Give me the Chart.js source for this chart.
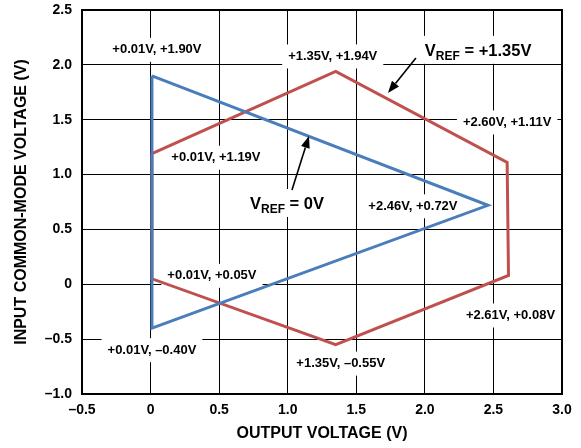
<!DOCTYPE html>
<html>
<head>
<meta charset="utf-8">
<script src="https://cdn.jsdelivr.net/npm/chart.js@4.4.0/dist/chart.umd.min.js"></script>
<style>
  html, body { margin: 0; padding: 0; background: #fff; }
</style>
</head>
<body>
<canvas id="c" width="581" height="448"></canvas>
<script>
// Operating-region vertices: output voltage (x) vs input common-mode voltage (y), volts
const vref0Out   = [0.01, 2.46, 0.01, 0.01];
const vref0In    = [1.90, 0.72, -0.40, 1.90];
const vref135Out = [0.01, 1.35, 2.60, 2.61, 1.35, 0.01, 0.01];
const vref135In  = [1.19, 1.94, 1.11, 0.08, -0.55, 0.05, 1.19];

const xTicks = [-0.5, 0, 0.5, 1.0, 1.5, 2.0, 2.5, 3.0];
const yTicks = [-1.0, -0.5, 0, 0.5, 1.0, 1.5, 2.0, 2.5];

const FONT = '"Liberation Sans", Arial, Helvetica, sans-serif';
const BLUE = '#4a7ebb';
const RED  = '#c0504d';

const seriesX = [vref0Out, vref135Out];
const seriesY = [vref0In, vref135In];

function fmtTick(v) {
  if (v === 0) return '0';
  return (v < 0 ? '\u2013' : '') + Math.abs(v).toFixed(1);
}
function fmtVolt(v) {
  return (v < 0 ? '\u2013' : '+') + Math.abs(v).toFixed(2) + 'V';
}

// Vertex callouts: series, vertex index, text centre offset from the vertex (px)
const callouts = [
  { s: 0, i: 0, dx: 5,   dy: -26 },
  { s: 0, i: 1, dx: -75, dy: 1 },
  { s: 0, i: 2, dx: 0,   dy: 22 },
  { s: 1, i: 0, dx: 64,  dy: 4 },
  { s: 1, i: 1, dx: -3,  dy: -15 },
  { s: 1, i: 2, dx: 0,   dy: -40 },
  { s: 1, i: 3, dx: 2,   dy: 40 },
  { s: 1, i: 4, dx: 5,   dy: 19 },
  { s: 1, i: 5, dx: 60,  dy: -3 }
];

// Reference-voltage captions (left edge / vertical centre in data units) and their arrows
const refCaptions = [
  { tail: ' = +1.35V', x: 2.00, y: 2.137, arrow: [1.935, 2.063, 1.731, 1.744] },
  { tail: ' = 0V',     x: 0.725, y: 0.741, arrow: [1.031, 0.860, 1.155, 1.352] }
];

const CALLOUT_FONT = 'bold 13px ' + FONT;
const BIG_FONT = 'bold 16.5px ' + FONT;
const SUB_FONT = 'bold 12px ' + FONT;

function calloutBoxes(chart) {
  const { ctx, scales: { x, y } } = chart;
  ctx.save();
  ctx.font = CALLOUT_FONT;
  const out = callouts.map(c => {
    const vx = seriesX[c.s][c.i], vy = seriesY[c.s][c.i];
    const text = fmtVolt(vx) + ', ' + fmtVolt(vy);
    const cx = x.getPixelForValue(vx) + c.dx;
    const cy = y.getPixelForValue(vy) + c.dy;
    const w = ctx.measureText(text).width;
    return { text, cx, cy, w };
  });
  ctx.restore();
  return out;
}

function captionLayout(chart, r) {
  const { ctx, scales: { x, y } } = chart;
  ctx.save();
  ctx.font = BIG_FONT; const wV = ctx.measureText('V').width; const wT = ctx.measureText(r.tail).width;
  ctx.font = SUB_FONT; const wS = ctx.measureText('REF').width;
  ctx.restore();
  const left = x.getPixelForValue(r.x);
  const cy = y.getPixelForValue(r.y);
  return { left, cy, wV, wS, wT, w: wV + wS + wT };
}

function drawArrow(ctx, x0, y0, x1, y1) {
  const ang = Math.atan2(y1 - y0, x1 - x0);
  const len = 12, half = 4.5;
  const bx = x1 - len * Math.cos(ang), by = y1 - len * Math.sin(ang);
  ctx.beginPath();
  ctx.moveTo(x0, y0);
  ctx.lineTo(bx, by);
  ctx.stroke();
  ctx.beginPath();
  ctx.moveTo(x1, y1);
  ctx.lineTo(bx + half * Math.sin(ang), by - half * Math.cos(ang));
  ctx.lineTo(bx - half * Math.sin(ang), by + half * Math.cos(ang));
  ctx.closePath();
  ctx.fill();
}

const annotate = {
  id: 'annotate',
  beforeDatasetsDraw(chart) {
    const { ctx, chartArea: a } = chart;
    ctx.save();
    ctx.fillStyle = '#fff';
    for (const b of calloutBoxes(chart)) {
      ctx.fillRect(b.cx - b.w / 2 - 6, b.cy - 12, b.w + 12, 24);
    }
    for (const r of refCaptions) {
      const L = captionLayout(chart, r);
      ctx.fillRect(L.left - 6, L.cy - 14, L.w + 12, 28);
    }
    ctx.strokeStyle = '#000';
    ctx.lineWidth = 2;
    ctx.strokeRect(a.left, a.top, a.right - a.left, a.bottom - a.top);
    ctx.restore();
  },
  afterDatasetsDraw(chart) {
    const { ctx, scales: { x, y } } = chart;
    ctx.save();
    ctx.fillStyle = '#000';
    ctx.font = CALLOUT_FONT;
    ctx.textAlign = 'center';
    ctx.textBaseline = 'middle';
    for (const b of calloutBoxes(chart)) ctx.fillText(b.text, b.cx, b.cy);

    ctx.textAlign = 'left';
    ctx.textBaseline = 'alphabetic';
    for (const r of refCaptions) {
      const L = captionLayout(chart, r);
      const base = L.cy + 6;
      ctx.font = BIG_FONT;
      ctx.fillText('V', L.left, base);
      ctx.font = SUB_FONT;
      ctx.fillText('REF', L.left + L.wV, base + 4);
      ctx.font = BIG_FONT;
      ctx.fillText(r.tail, L.left + L.wV + L.wS, base);

      const [ax0, ay0, ax1, ay1] = r.arrow;
      ctx.strokeStyle = '#000';
      ctx.lineWidth = 1.6;
      drawArrow(ctx, x.getPixelForValue(ax0), y.getPixelForValue(ay0),
                     x.getPixelForValue(ax1), y.getPixelForValue(ay1));
    }
    ctx.restore();
  }
};

function points(xs, ys) { return xs.map((v, k) => ({ x: v, y: ys[k] })); }

const gridOpts = { color: '#000', lineWidth: 1, drawTicks: false };

new Chart(document.getElementById('c'), {
  type: 'scatter',
  data: {
    datasets: [
      { label: 'VREF = 0V', data: points(vref0Out, vref0In), showLine: true,
        borderColor: BLUE, borderWidth: 3, pointRadius: 0, tension: 0,
        borderJoinStyle: 'miter', fill: false },
      { label: 'VREF = +1.35V', data: points(vref135Out, vref135In), showLine: true,
        borderColor: RED, borderWidth: 3, pointRadius: 0, tension: 0,
        borderJoinStyle: 'miter', fill: false }
    ]
  },
  options: {
    responsive: false,
    devicePixelRatio: 1,
    animation: false,
    layout: { padding: { top: 10, right: 19, bottom: 0, left: 0 } },
    plugins: { legend: { display: false }, tooltip: { enabled: false } },
    scales: {
      x: {
        type: 'linear', position: 'bottom', min: -0.5, max: 3.0,
        afterBuildTicks: s => { s.ticks = xTicks.map(v => ({ value: v })); },
        afterFit: s => { s.height = 54; s.paddingLeft = 0; s.paddingRight = 0; },
        grid: gridOpts,
        border: { display: false },
        ticks: { color: '#000', font: { family: FONT, size: 14, weight: 'bold' },
                 padding: 8, maxRotation: 0, autoSkip: false, callback: fmtTick },
        title: { display: true, text: 'OUTPUT VOLTAGE (V)', color: '#000',
                 font: { family: FONT, size: 16, weight: 'bold' },
                 padding: { top: 0, bottom: 5 } }
      },
      y: {
        type: 'linear', position: 'left', min: -1.0, max: 2.5,
        afterBuildTicks: s => { s.ticks = yTicks.map(v => ({ value: v })); },
        afterFit: s => { s.width = 82; s.paddingTop = 0; s.paddingBottom = 0; },
        grid: gridOpts,
        border: { display: false },
        ticks: { color: '#000', font: { family: FONT, size: 14, weight: 'bold' },
                 padding: 10, autoSkip: false, callback: fmtTick },
        title: { display: true, text: 'INPUT COMMON-MODE VOLTAGE (V)', color: '#000',
                 font: { family: FONT, size: 16, weight: 'bold' },
                 padding: { top: 12, bottom: 0 } }
      }
    }
  },
  plugins: [annotate]
});
</script>
</body>
</html>
